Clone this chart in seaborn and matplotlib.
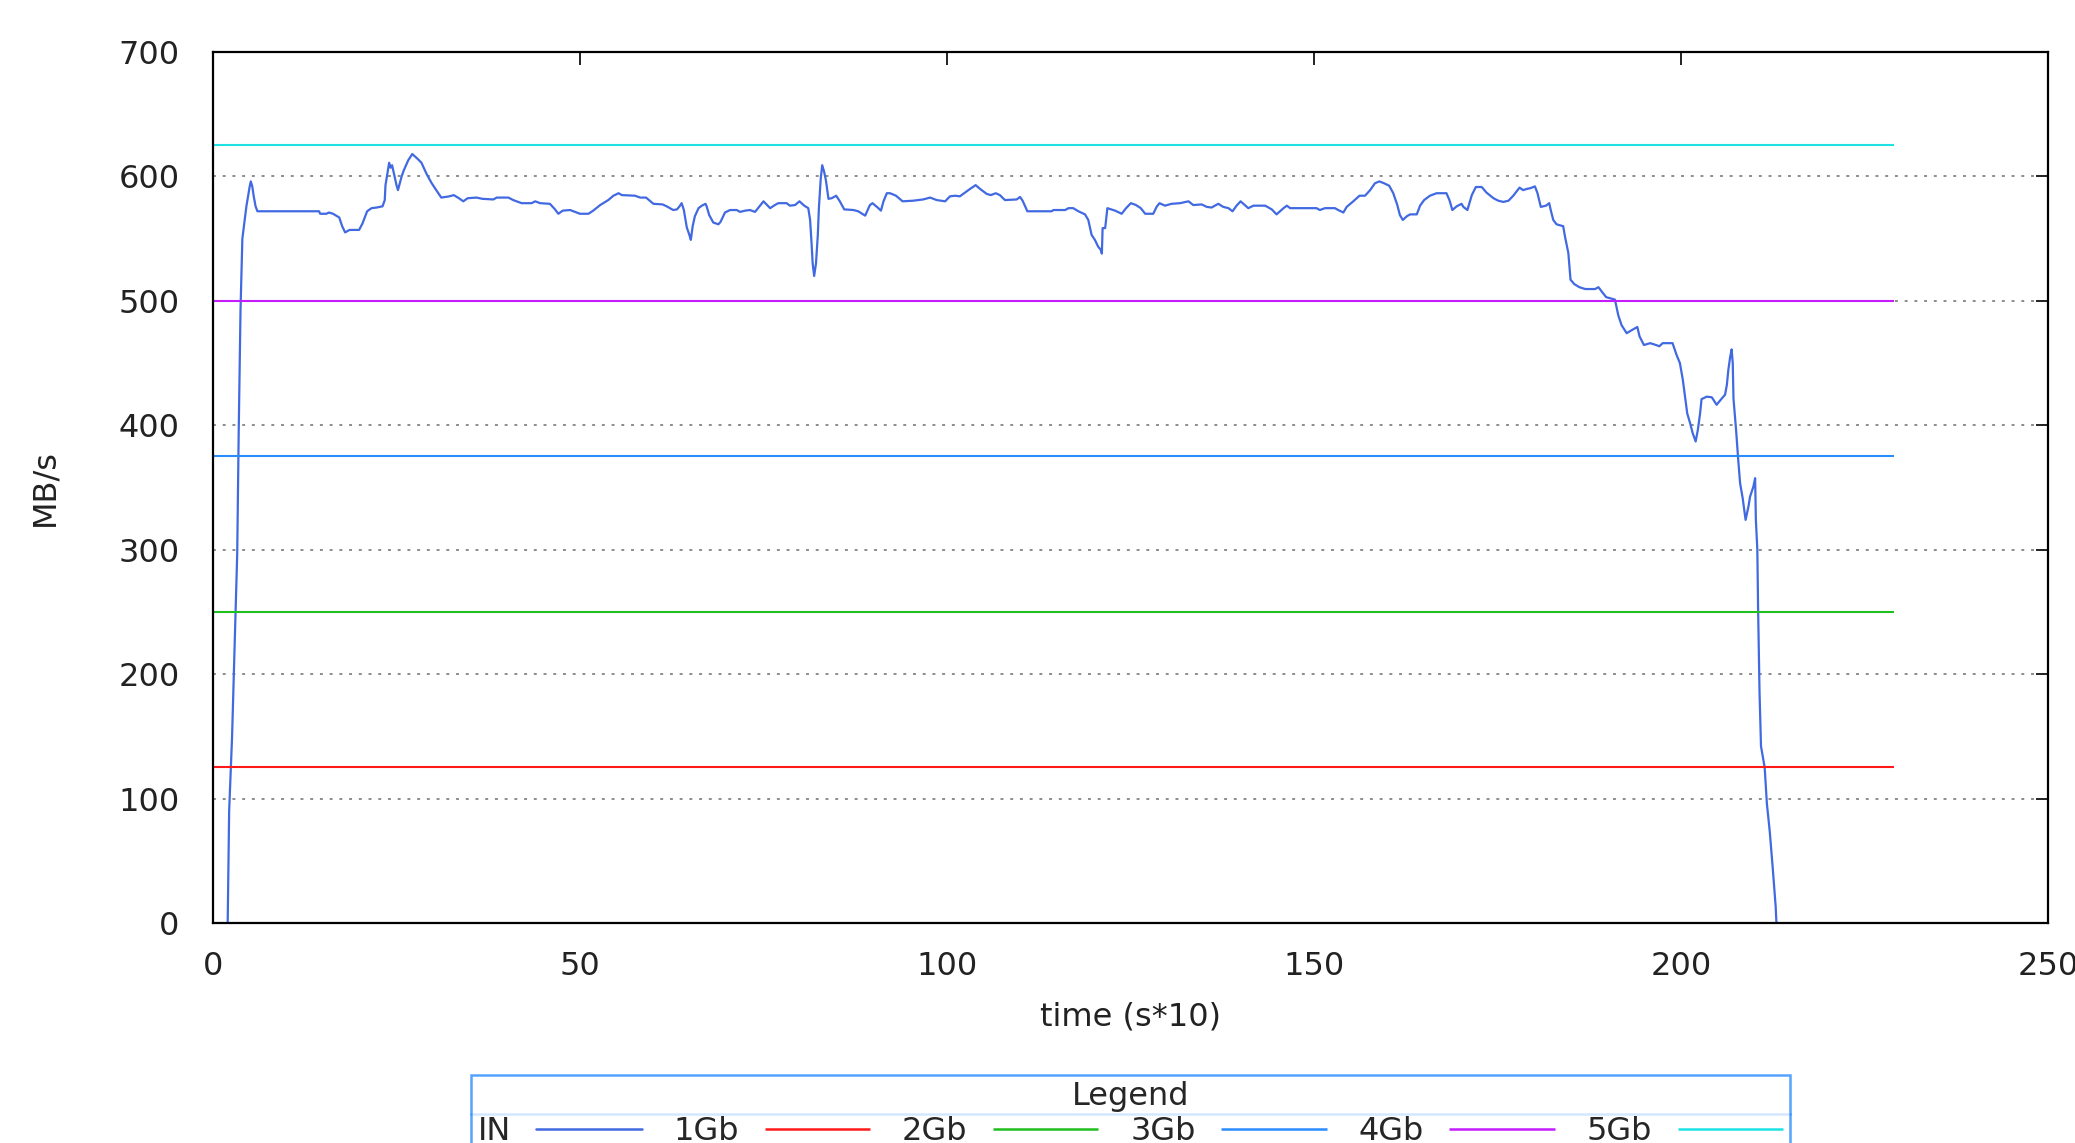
import matplotlib
matplotlib.use("Agg")
import matplotlib.pyplot as plt
from matplotlib.lines import Line2D
import seaborn as sns

# IN throughput, vertices (time in s*10, MB/s)
t_in = [2.0, 2.2, 2.6, 2.9, 3.3, 3.5, 3.75, 4.0, 4.3, 4.55, 4.8, 5.0, 5.15, 5.35, 5.55, 5.8, 6.05,
        14.45, 14.6, 15.45, 15.8, 16.35, 17.2, 17.6, 18.0, 18.6, 19.9, 20.35, 21.0, 21.6, 22.3, 23.1,
        23.4, 23.5, 24.0, 24.2, 24.4, 25.0, 25.2, 25.7, 26.0, 26.6, 27.15, 27.9, 28.4, 29.1, 29.75,
        30.3, 31.1, 32.2, 32.8, 33.5, 34.1, 34.7, 35.9, 36.7,
        38.2, 38.65, 40.25, 40.9, 42.05, 43.4, 43.9, 44.55, 45.9, 46.6, 47.05, 47.65, 48.65, 50.0,
        51.15, 51.8, 52.75, 53.85, 54.55, 55.25, 55.7, 57.5, 58.2, 59.0, 60.0, 61.25, 61.8, 62.7,
        63.2, 63.5, 63.85, 64.15, 64.55, 64.9, 65.1, 65.35, 65.65, 66.15, 66.6, 67.1, 67.25, 67.6,
        68.15, 68.85, 69.15, 69.75, 70.45, 71.35, 71.8, 72.5,
        73.15, 73.85, 75.0, 75.9, 76.55, 77.0, 78.15, 78.6, 79.3, 79.9, 80.55, 81.1, 81.35, 81.55,
        81.7, 81.9, 82.15, 82.4, 82.55, 82.8, 83.0, 83.25, 83.5, 83.85, 84.3, 84.9, 85.4, 86.0,
        87.25, 87.9, 88.85, 89.5, 89.85, 90.65, 91.0, 91.35, 91.8, 92.25, 93.05, 93.95, 95.4, 96.75,
        97.7, 98.6, 99.75, 100.4, 101.1, 101.75, 102.45, 103.15, 103.9, 104.5, 105.4, 105.95,
        106.65, 107.2, 107.9, 109.5,
        109.95, 110.3, 110.95, 114.25, 114.5, 116.1, 116.55, 117.2, 117.9, 118.8, 119.25, 119.7,
        120.15, 120.6, 120.95, 121.1, 121.2, 121.55, 121.85, 122.9, 123.8, 124.4, 125.05, 125.75,
        126.4, 127.0, 128.1, 128.55, 128.95, 129.7, 130.6, 131.75, 132.9, 133.55, 134.7, 135.4,
        136.05, 136.95, 137.65, 138.35, 138.9, 139.45, 140.0, 141.05, 141.75, 143.35, 144.25,
        144.9, 145.85, 146.3,
        146.75, 150.35, 150.8, 151.5, 152.85, 153.3, 154.0, 154.45, 155.35, 156.2, 156.95, 157.65,
        158.3, 158.9, 159.55, 160.25, 160.8, 161.35, 161.7, 162.1, 162.65, 163.1, 164.0, 164.45,
        165.0, 165.8, 166.7, 168.05, 168.45, 168.85, 169.45, 170.1, 170.35, 170.9, 171.5, 172.05,
        172.85, 173.5, 174.45, 175.1, 175.8, 176.5, 177.15, 178.0, 178.5, 179.0, 179.45, 180.1,
        180.45, 180.9, 181.6, 182.05, 182.25, 182.6, 183.05,
        183.95, 184.2, 184.65, 184.95, 185.45, 186.15, 186.95, 188.3, 188.75, 189.2, 189.8, 191.0,
        191.45, 191.9, 192.6, 193.3, 194.05, 194.35, 194.95, 195.8, 196.6, 197.05, 197.5, 198.85,
        199.4, 199.85, 200.25, 200.55, 200.85, 201.25, 201.6, 202.0, 202.3, 202.6, 202.8, 203.5,
        204.2, 204.85, 205.55, 206.0, 206.25, 206.45, 206.7, 206.9, 207.05, 207.15, 207.5, 207.8,
        208.05, 208.4, 208.8, 209.2, 209.4, 209.85, 210.1, 210.2, 210.4, 210.5, 210.7, 210.9,
        211.4, 211.7, 212.1, 212.5, 212.9, 213.0]
mb_in = [0, 90, 150, 213, 297, 394, 493, 550, 564, 576, 585, 592, 596, 592, 584, 576, 572,
         572, 570, 570, 571, 570, 567, 560, 555, 557, 557, 562, 572, 574.5, 575, 576,
         581, 593, 611, 607, 609, 593, 589, 600, 605, 613, 618, 614, 611, 602, 595,
         590, 583, 584, 585, 582.5, 580, 582.5, 583, 582,
         581.5, 583, 583, 581, 578.5, 578.5, 580, 578.5, 578, 573.5, 570, 572.5, 573, 570,
         570, 572.5, 577, 581, 584.5, 586.5, 585, 584.5, 583, 583, 578, 577.5, 576, 573,
         573.5, 575.5, 578.5, 573, 559, 553, 549, 560, 568, 574.5, 576.5, 578, 576, 569,
         563, 561.5, 563.5, 571, 573, 573, 571.5, 572.5,
         573, 571.5, 580, 574.5, 577, 578.5, 578.5, 576.5, 577, 580, 576.5, 574.5, 565, 546,
         530, 520, 530, 553, 575, 598.5, 609, 604, 597, 582, 582.5, 584.5, 580, 573.5,
         573, 572, 568.5, 577, 578.5, 574.5, 572.5, 580, 586.5, 586.5, 584.5, 580, 580.5, 581.5,
         583, 581, 580, 584, 584.5, 584, 587, 590, 593, 590, 586, 585,
         586.5, 585, 581, 581.5,
         583.5, 580.5, 572, 572, 573, 573, 574.5, 574.5, 572, 569.5, 565, 553,
         549, 543.5, 541, 538, 558.5, 558.5, 574.5, 572.5, 570, 574.5, 578.5, 577,
         574.5, 570, 570, 575.5, 578.5, 576.5, 578, 578.5, 580, 577, 577.5, 575.5,
         575, 578, 575.5, 574.5, 572, 576.5, 580, 574.5, 576.5, 576.5, 573.5,
         569.5, 574.5, 576.5,
         574.5, 574.5, 573, 574.5, 574.5, 573, 571, 575.5, 580, 584.5, 584.5, 589,
         594.5, 596, 594.5, 592.5, 586.5, 577, 569, 565, 568, 569.5, 569.5, 576.5,
         581, 584.5, 586.5, 586.5, 581, 573, 576, 578, 575.5, 573, 585, 591.5,
         591.5, 587, 582.5, 580.5, 579.5, 580.5, 584.5, 591, 589, 590, 590.5, 592,
         586.5, 575.5, 576.5, 578.5, 573, 565, 561.5,
         560, 551.5, 538.5, 517, 513.5, 511, 509.5, 509.5, 511, 507.5, 503, 501,
         488.5, 480.5, 474, 476.5, 479, 471.5, 464.5, 466, 464.5, 463.5, 466, 466,
         456.5, 450, 436.5, 423, 409.5, 401.5, 393.5, 387, 396.5, 409.5, 421, 423,
         422.5, 416.5, 421.5, 424.5, 432.5, 444.5, 455, 461, 450, 421.5, 396.5, 372,
         353.5, 341.5, 324, 335, 342.5, 350.5, 357.5, 324, 300, 254, 185, 142,
         125, 96, 73, 44, 13, 0]

# link speed reference lines (MB/s)
link_labels = ["1Gb", "2Gb", "3Gb", "4Gb", "5Gb"]
link_levels = [125, 250, 375, 500, 625]
link_colors = ["#ff1a1a", "#1fbf1f", "#2b8cff", "#c41cff", "#1fe3e3"]
t_ref_end = 229

sns.set_theme(style="white")
plt.rcParams["font.family"] = ["DejaVu Sans"]

fig = plt.figure(figsize=(20.75, 11.43), dpi=100)
ax = fig.add_axes([213 / 2075, 1 - 923 / 1143, (2048 - 213) / 2075, (923 - 52) / 1143])

ax.yaxis.grid(True, linestyle=(0, (1.5, 3.5)), color="#8c8c8c", lw=1.4)
ax.xaxis.grid(False)
ax.set_axisbelow(True)

sns.lineplot(x=t_in, y=mb_in, ax=ax, color="#4169e1", lw=1.6, label="IN",
             sort=False, estimator=None)
for lab, lvl, col in zip(link_labels, link_levels, link_colors):
    ax.hlines(lvl, 0, t_ref_end, color=col, lw=1.5, label=lab)

ax.set_xlim(0, 250)
ax.set_ylim(0, 700)
ax.set_xticks(range(0, 251, 50))
ax.set_yticks(range(0, 701, 100))
ax.tick_params(direction="in", top=True, right=True, length=9, width=1.4,
               labelsize=23, colors="#222222")
ax.tick_params(axis="y", pad=24)
ax.tick_params(axis="x", pad=20)
for s in ax.spines.values():
    s.set_color("black")
    s.set_linewidth(1.6)

ax.set_xlabel("time (s*10)", fontsize=23, color="#222222")
ax.set_ylabel("MB/s", fontsize=23, color="#222222")
ax.xaxis.set_label_coords(0.5, -0.09)
ax.yaxis.set_label_coords(-0.083, 0.5)

ax.get_legend().remove()
handles, labels = ax.get_legend_handles_labels()
leg = fig.legend(handles, labels, title="Legend", ncol=6, markerfirst=False,
                 loc="upper left", bbox_to_anchor=(471 / 2075, 1 - 1075 / 1143),
                 fontsize=23, title_fontsize=23, frameon=True, fancybox=False,
                 handlelength=3.3, handletextpad=0.8, columnspacing=1.0,
                 labelspacing=0.12, borderpad=0.2, borderaxespad=0)
leg.get_frame().set_edgecolor("#2b8cff")
leg.get_frame().set_linewidth(1.8)
for h in leg.legend_handles:
    h.set_linewidth(1.8)

# separator line under the legend title
fig.canvas.draw()
bb = leg.get_window_extent()
tb = leg.get_title().get_window_extent()
ysep = tb.y0 - 2
fig.add_artist(Line2D([bb.x0, bb.x1], [ysep, ysep], transform=None,
                      color="#2b8cff", lw=1.8))

fig.savefig("out.png", dpi=100)
